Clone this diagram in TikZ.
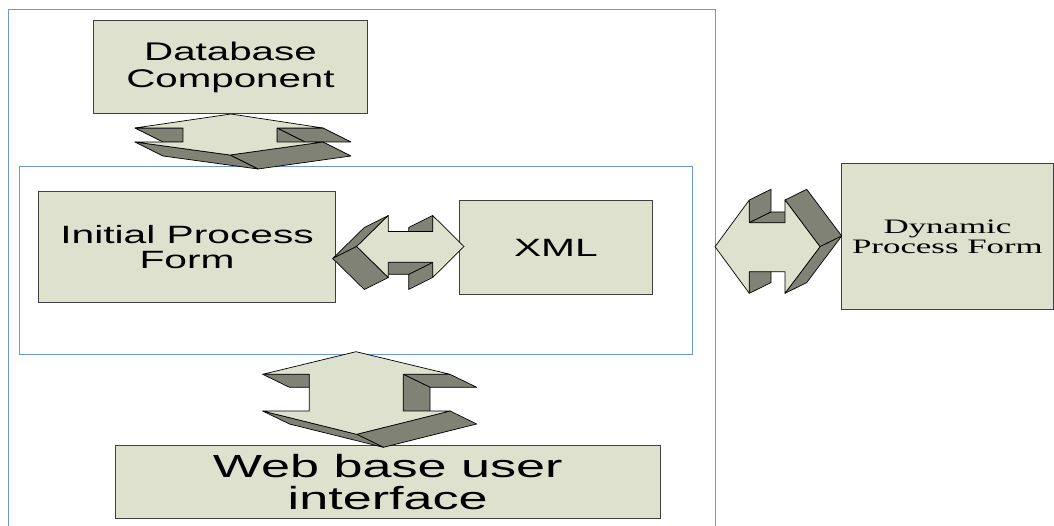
\documentclass[tikz,border=0pt]{standalone}
\usepackage{fontspec}
\usepackage{graphicx}
\setmainfont{Liberation Sans}
\newfontfamily\serifdpf{Liberation Serif}
\usetikzlibrary{calc}
\definecolor{boxfill}{RGB}{222,225,205}
\definecolor{sidefill}{RGB}{128,130,118}
\definecolor{frameblue}{RGB}{110,150,215}
\definecolor{boxline}{RGB}{64,64,64}
\newcommand\hs[2]{\scalebox{#1}[1]{#2}}
\newcommand\extq[3]{\filldraw[sideface] (#1) -- (#2) -- ($(#2)+(#3)$) -- ($(#1)+(#3)$) -- cycle;}
\begin{document}
\begin{tikzpicture}[x=1pt,y=-1pt,
 frame/.style={draw=frameblue, line width=0.8pt},
 procbox/.style={draw=boxline, fill=boxfill, line width=0.9pt, inner sep=0pt, anchor=north west, align=center},
 sideface/.style={fill=sidefill, draw=black, line width=0.7pt, line join=round},
 frontface/.style={fill=boxfill, draw=black, line width=0.7pt, line join=round}]
\path[use as bounding box] (0,0) rectangle (1054,526);
\clip (0,0) rectangle (1054,526);
% frames
\draw[frame] (8,9.3) rectangle (715,560);
\draw[frame] (19,166.5) rectangle (692.3,354);
% boxes
\node[procbox, minimum width=274pt, minimum height=93pt, font=\fontsize{25.5}{27}\selectfont] (db) at (93,20) {\hs{1.58}{Database}\\\hs{1.58}{Component}};
\node[procbox, minimum width=296.7pt, minimum height=110.7pt, font=\fontsize{25}{25}\selectfont] (ipf) at (38.3,191) {\hs{1.63}{Initial Process}\\\hs{1.63}{Form}};
\node[procbox, minimum width=192.4pt, minimum height=94pt, font=\fontsize{25}{26}\selectfont] (xml) at (459.3,200) {\hs{1.63}{XML}};
\node[procbox, minimum width=212pt, minimum height=146pt, font=\serifdpf\fontsize{20.5}{20.5}\selectfont] (dpf) at (841,163.3) {\hs{1.7}{Dynamic}\\\hs{1.7}{Process Form}};
\node[procbox, minimum width=545.5pt, minimum height=73.3pt, font=\fontsize{32}{31.5}\selectfont] (web) at (114.5,445) {\hs{1.63}{Web base user}\\\hs{1.63}{interface}};
% arrow 1 : db <-> inner frame
\coordinate (a1T) at (231,114);
\coordinate (a1HR1) at (323,128);
\coordinate (a1SR1) at (277,128);
\coordinate (a1SR2) at (277,142);
\coordinate (a1HR2) at (323,142);
\coordinate (a1Bt) at (230,155);
\coordinate (a1HL2) at (135,142);
\coordinate (a1SL2) at (183,142);
\coordinate (a1SL1) at (183,128);
\coordinate (a1HL1) at (135,128);
\extq{a1HR1}{a1SR1}{28,14}
\extq{a1SR1}{a1SR2}{28,14}
\extq{a1HR2}{a1Bt}{28,14}
\extq{a1Bt}{a1HL2}{28,14}
\extq{a1SL1}{a1HL1}{28,14}
\filldraw[frontface] (a1T) -- (a1HR1) -- (a1SR1) -- (a1SR2) -- (a1HR2) -- (a1Bt) -- (a1HL2) -- (a1SL2) -- (a1SL1) -- (a1HL1) -- cycle;
% arrow 2 : ipf <-> xml
\coordinate (a2Lt) at (356.7,246.5);
\coordinate (a2LHt) at (388.3,215.5);
\coordinate (a2LSt) at (388.3,231.5);
\coordinate (a2RSt) at (432.7,231.5);
\coordinate (a2RHt) at (432.7,215.5);
\coordinate (a2Rt) at (464,246.5);
\coordinate (a2RHb) at (432.7,277.5);
\coordinate (a2RSb) at (432.7,262.3);
\coordinate (a2LSb) at (388.3,262.3);
\coordinate (a2LHb) at (388.3,277.5);
\extq{a2Lt}{a2LHt}{-24,12}
\extq{a2RSt}{a2RHt}{-24,12}
\extq{a2RHb}{a2RSb}{-24,12}
\extq{a2RSb}{a2LSb}{-24,12}
\extq{a2LHb}{a2Lt}{-24,12}
\filldraw[frontface] (a2Lt) -- (a2LHt) -- (a2LSt) -- (a2RSt) -- (a2RHt) -- (a2Rt) -- (a2RHb) -- (a2RSb) -- (a2LSb) -- (a2LHb) -- cycle;
% arrow 3 : outer frame <-> dpf
\coordinate (a3Lt) at (715,246.7);
\coordinate (a3LHt) at (749.3,200);
\coordinate (a3LSt) at (749.3,222.7);
\coordinate (a3RSt) at (785,222.7);
\coordinate (a3RHt) at (785,200);
\coordinate (a3Rt) at (820,246.7);
\coordinate (a3RHb) at (785,293.3);
\coordinate (a3RSb) at (785,271.7);
\coordinate (a3LSb) at (749.3,271.7);
\coordinate (a3LHb) at (749.3,293.3);
\extq{a3LHt}{a3LSt}{21.7,-10.7}
\extq{a3LSt}{a3RSt}{21.7,-10.7}
\extq{a3RHt}{a3Rt}{21.7,-10.7}
\extq{a3Rt}{a3RHb}{21.7,-10.7}
\extq{a3LSb}{a3LHb}{21.7,-10.7}
\filldraw[frontface] (a3Lt) -- (a3LHt) -- (a3LSt) -- (a3RSt) -- (a3RHt) -- (a3Rt) -- (a3RHb) -- (a3RSb) -- (a3LSb) -- (a3LHb) -- cycle;
% arrow 4 : inner frame <-> web
\coordinate (a4T) at (356,351.7);
\coordinate (a4HR1) at (450,374.3);
\coordinate (a4SR1) at (403.3,374.3);
\coordinate (a4SR2) at (403.3,411);
\coordinate (a4HR2) at (450,411);
\coordinate (a4Bt) at (356.7,434.3);
\coordinate (a4HL2) at (262.7,411);
\coordinate (a4SL2) at (309.3,411);
\coordinate (a4SL1) at (309.3,374.3);
\coordinate (a4HL1) at (262.7,374.3);
\extq{a4HR1}{a4SR1}{26.7,13}
\extq{a4SR1}{a4SR2}{26.7,13}
\extq{a4HR2}{a4Bt}{26.7,13}
\extq{a4Bt}{a4HL2}{26.7,13}
\extq{a4SL1}{a4HL1}{26.7,13}
\filldraw[frontface] (a4T) -- (a4HR1) -- (a4SR1) -- (a4SR2) -- (a4HR2) -- (a4Bt) -- (a4HL2) -- (a4SL2) -- (a4SL1) -- (a4HL1) -- cycle;
\end{tikzpicture}
\end{document}
